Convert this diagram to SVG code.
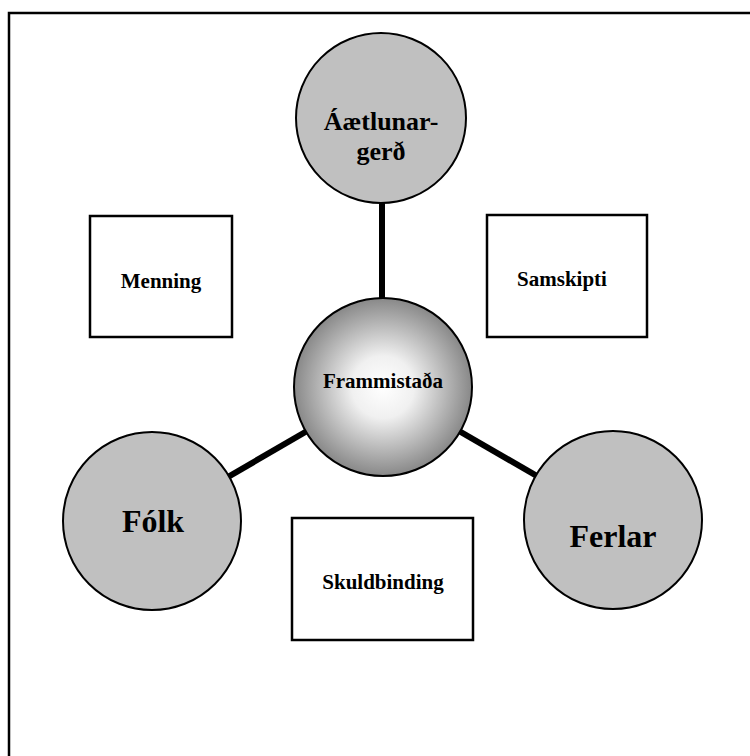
<svg xmlns="http://www.w3.org/2000/svg" width="750" height="756" viewBox="0 0 750 756">
<defs>
<radialGradient id="g" cx="0.5" cy="0.5" r="0.5">
<stop offset="0" stop-color="#ffffff"/>
<stop offset="0.35" stop-color="#f0f0f0"/>
<stop offset="1" stop-color="#888888"/>
</radialGradient>
<style>
.t{font-family:"Liberation Serif","Times New Roman",serif;font-weight:bold;fill:#000;text-anchor:middle}
.c{fill:#c0c0c0;stroke:#000;stroke-width:2}
.b{fill:#fff;stroke:#000;stroke-width:2.5}
.l{stroke:#000;stroke-width:6;fill:none}
</style>
</defs>
<rect width="750" height="756" fill="#fff"/>
<rect x="9" y="13" width="760" height="760" fill="none" stroke="#000" stroke-width="2.5"/>
<g id="connectors">
<line class="l" x1="382" y1="200" x2="382" y2="300"/>
<line class="l" x1="383" y1="387" x2="152" y2="521"/>
<line class="l" x1="383" y1="387" x2="613" y2="520"/>
</g>
<g id="aetlunargerd">
<circle class="c" cx="381" cy="118" r="85"/>
<text class="t" x="381" y="130" font-size="26">Áætlunar-</text>
<text class="t" x="381" y="160" font-size="26">gerð</text>
</g>
<g id="frammistada">
<circle cx="383" cy="387" r="89" fill="url(#g)" stroke="#000" stroke-width="2"/>
<text class="t" x="383" y="388" font-size="21">Frammistaða</text>
</g>
<g id="folk">
<circle class="c" cx="152" cy="521" r="89"/>
<text class="t" x="153" y="532" font-size="32">Fólk</text>
</g>
<g id="ferlar">
<circle class="c" cx="613" cy="520" r="89"/>
<text class="t" x="613" y="547" font-size="32">Ferlar</text>
</g>
<g id="menning">
<rect class="b" x="90" y="216" width="142" height="121"/>
<text class="t" x="161" y="288" font-size="21">Menning</text>
</g>
<g id="samskipti">
<rect class="b" x="487" y="215" width="160" height="122"/>
<text class="t" x="562" y="286" font-size="21">Samskipti</text>
</g>
<g id="skuldbinding">
<rect class="b" x="292" y="518" width="181" height="122"/>
<text class="t" x="383" y="589" font-size="21">Skuldbinding</text>
</g>
</svg>
